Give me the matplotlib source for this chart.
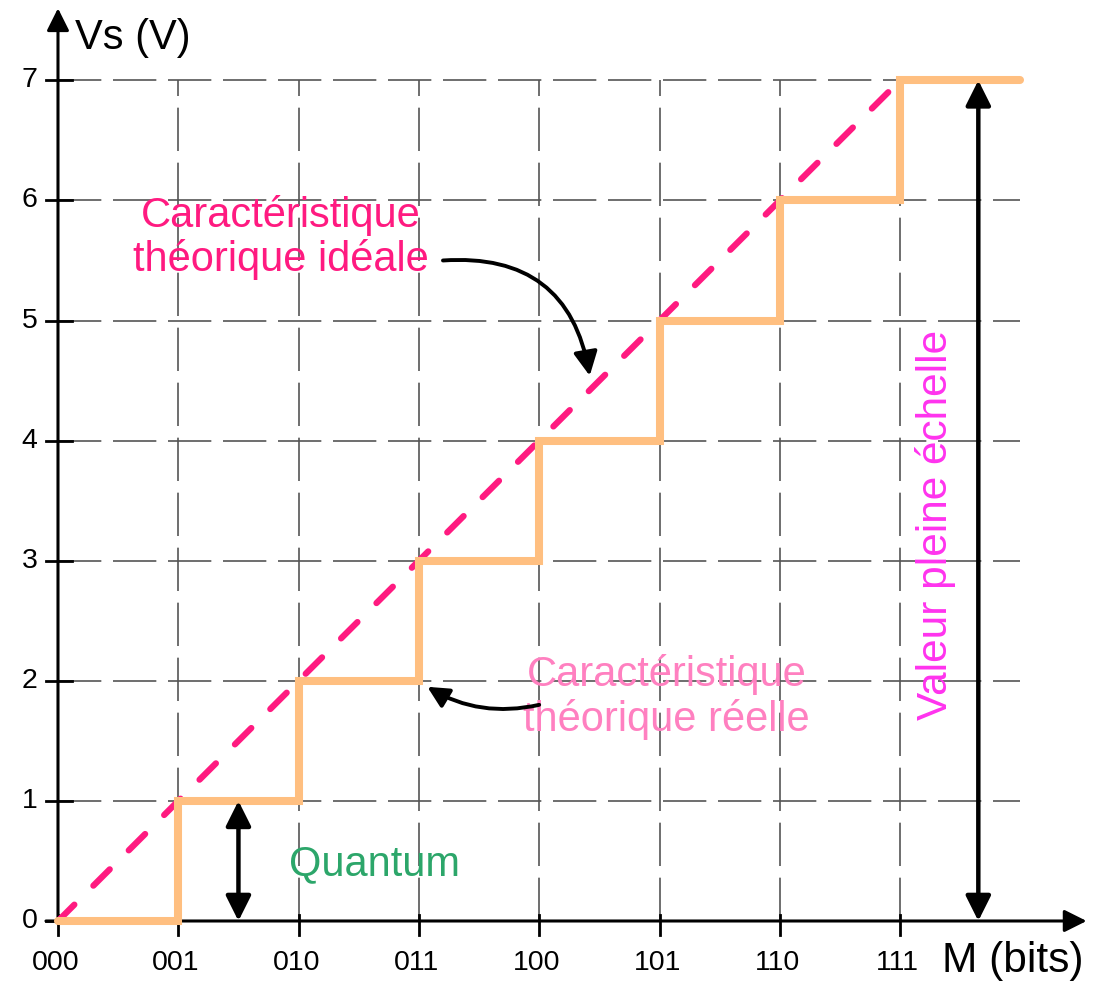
import numpy as np
import matplotlib.pyplot as plt

plt.rcParams['font.family'] = ['Liberation Sans', 'DejaVu Sans']

# ----------------------
# Data: 3-bit DAC transfer characteristic
# ----------------------
codes = ['000', '001', '010', '011', '100', '101', '110', '111']
volts = [0, 1, 2, 3, 4, 5, 6, 7]
ideal_volts = [0, 7]            # straight line from first to last code
full_scale = 7
quantum = 1

PINK = '#ff1a80'
ORANGE = '#ffbf80'
LIGHT_PINK = '#ff80c0'
MAGENTA = '#ff33ee'
GREEN = '#2ca66a'
GRID = '#555555'

n = len(codes)
xs = np.arange(n)

fig = plt.figure(figsize=(11.05, 9.88), dpi=100)
ax = fig.add_axes([0, 0, 1, 1])
ax.set_xlim(-0.482, 8.703)
ax.set_ylim(-0.558, 7.669)
ax.axis('off')

# ----------------------
# Dashed grid
# ----------------------
for v in volts:
    ax.plot([0, n], [v, v], color=GRID, lw=1.2, dashes=(26, 7), zorder=1)
for x in xs:
    ax.plot([x, x], [0, full_scale], color=GRID, lw=1.2, dashes=(26, 7), zorder=1)

# ----------------------
# Axes with arrows and ticks
# ----------------------
ax.annotate('', xy=(0, 7.6), xytext=(0, 0),
            arrowprops=dict(arrowstyle='-|>', color='black', lw=2.2,
                            mutation_scale=34, shrinkA=0, shrinkB=0), zorder=3)
ax.annotate('', xy=(8.55, 0), xytext=(-0.1, 0),
            arrowprops=dict(arrowstyle='-|>', color='black', lw=2.2,
                            mutation_scale=34, shrinkA=0, shrinkB=0), zorder=3)
for v in volts:
    ax.plot([-0.1, 0.12], [v, v], color='black', lw=2, zorder=3)
    ax.text(-0.17, v, str(v), ha='right', va='center', fontsize=20.5)
for x, c in zip(xs, codes):
    ax.plot([x, x], [-0.12, 0.05], color='black', lw=2, zorder=3)
    ax.text(x - 0.02, -0.24, c, ha='center', va='top', fontsize=20.5)
ax.text(0.14, 7.35, 'Vs (V)', ha='left', va='center', fontsize=30)
ax.text(7.35, -0.33, 'M (bits)', ha='left', va='center', fontsize=30.5)

# ----------------------
# Ideal and real characteristics
# ----------------------
ax.plot([xs[0], xs[-1]], ideal_volts, color=PINK, lw=4.5,
        dashes=(3.7, 4.3), dash_capstyle='round', zorder=4)
ax.step(np.append(xs, n), volts + [volts[-1]], where='post',
        color=ORANGE, lw=5.8, solid_capstyle='round', solid_joinstyle='miter', zorder=5)

# ----------------------
# Annotations
# ----------------------
ax.annotate('', xy=(1.5, 0), xytext=(1.5, quantum),
            arrowprops=dict(arrowstyle='<|-|>', color='black', lw=3.2,
                            mutation_scale=38, shrinkA=0, shrinkB=0), zorder=6)
ax.text(2.63, 0.47, 'Quantum', ha='center', va='center', fontsize=30, color=GREEN)

ax.annotate('', xy=(7.65, 0), xytext=(7.65, full_scale),
            arrowprops=dict(arrowstyle='<|-|>', color='black', lw=3.2,
                            mutation_scale=38, shrinkA=0, shrinkB=0), zorder=6)
ax.text(7.29, 3.3, 'Valeur pleine échelle', rotation=90, ha='center', va='center',
        fontsize=30.5, color=MAGENTA)

ax.text(1.85, 5.69, 'Caractéristique\nthéorique idéale', ha='center', va='center',
        fontsize=30, color=PINK, linespacing=1.08)
ax.annotate('', xy=(4.42, 4.54), xytext=(3.2, 5.5),
            arrowprops=dict(arrowstyle='-|>', color='black', lw=2.8, mutation_scale=36,
                            shrinkA=0, shrinkB=0, connectionstyle='arc3,rad=-0.45'))

ax.text(5.06, 1.865, 'Caractéristique\nthéorique réelle', ha='center', va='center',
        fontsize=30, color=LIGHT_PINK, linespacing=1.1)
ax.annotate('', xy=(3.07, 1.95), xytext=(4.0, 1.8),
            arrowprops=dict(arrowstyle='-|>', color='black', lw=2.8, mutation_scale=32,
                            shrinkA=0, shrinkB=0, connectionstyle='arc3,rad=-0.2'))

fig.savefig('out.png', dpi=100, facecolor='white')
